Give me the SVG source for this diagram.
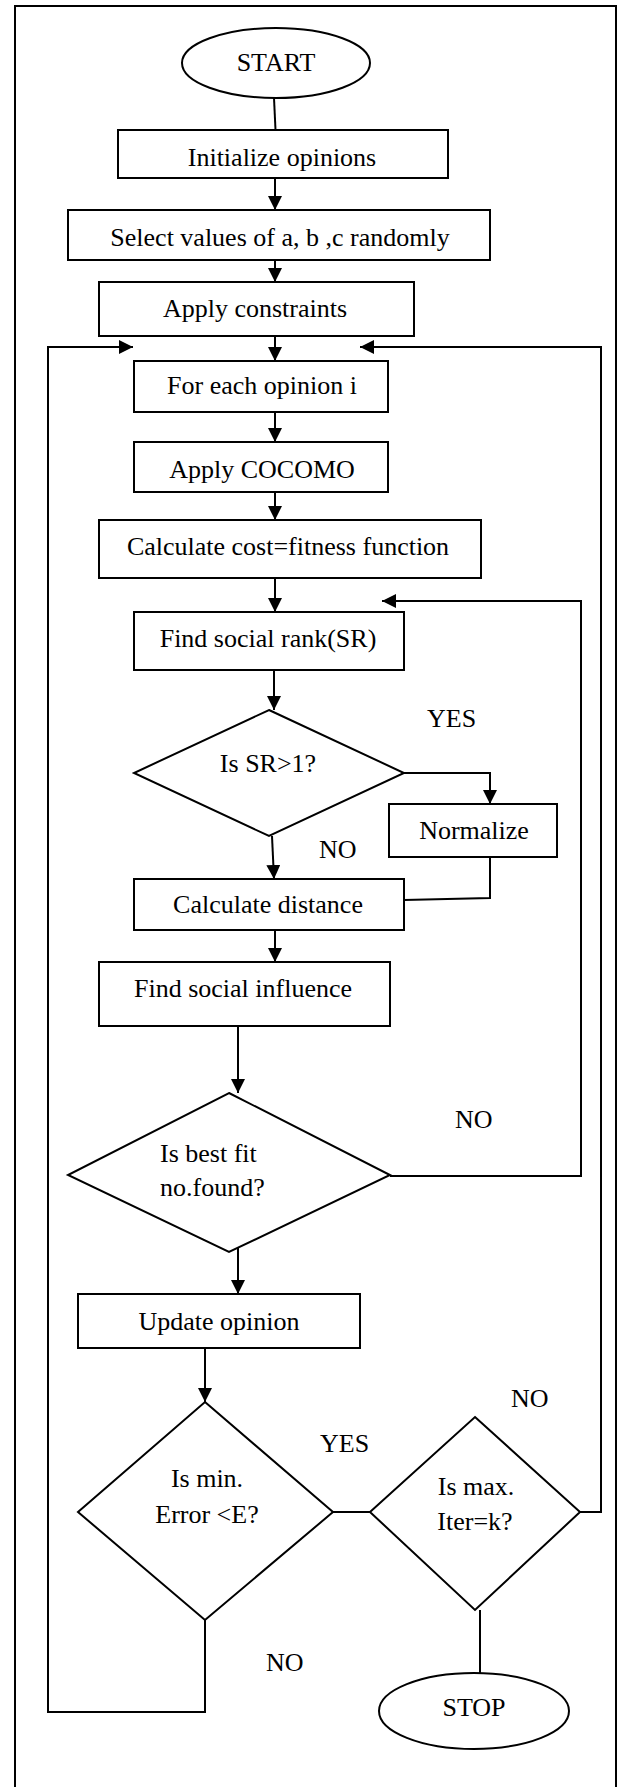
<svg xmlns="http://www.w3.org/2000/svg" width="624" height="1787" viewBox="0 0 624 1787">
<style>
.s{fill:#fff;stroke:#000;stroke-width:2}
.c{fill:none;stroke:#000;stroke-width:2}
.a{marker-end:url(#ah)}
text{font-family:"Liberation Serif","Times New Roman",serif;font-size:26px;fill:#000}
.m{text-anchor:middle}
</style>
<defs>
<marker id="ah" markerUnits="userSpaceOnUse" markerWidth="15" markerHeight="15" refX="14" refY="7" orient="auto">
<path d="M0,0 L14,7 L0,14 z" fill="#000"/>
</marker>
</defs>
<rect x="0" y="0" width="624" height="1787" fill="#fff"/>
<path class="c" d="M15,1795 V6 H616 V1795"/>
<g id="connectors">
<path class="c" d="M274,98 L275.5,130"/>
<path class="c a" d="M275,178 V210"/>
<path class="c a" d="M275,260 V282"/>
<path class="c a" d="M275,336 V361"/>
<path class="c a" d="M275,412 V442"/>
<path class="c a" d="M275,492 V520"/>
<path class="c a" d="M275,578 V612"/>
<path class="c a" d="M274,670 V710"/>
<path class="c a" d="M404,773 H490 V804"/>
<path class="c a" d="M272,836 L274,879"/>
<path class="c" d="M490,857 V898 L404,900"/>
<path class="c a" d="M275,930 V962"/>
<path class="c a" d="M238,1026 V1093"/>
<path class="c a" d="M390,1176 H581 V601 H382"/>
<path class="c a" d="M238,1243 V1294"/>
<path class="c a" d="M205,1348 V1402"/>
<path class="c" d="M333,1512 H370"/>
<path class="c a" d="M580,1512 H601 V347 H360"/>
<path class="c" d="M480,1610 V1673"/>
<path class="c a" d="M205,1620 V1712 H48 V347 H133"/>
</g>
<g id="start"><ellipse class="s" cx="276" cy="63" rx="94" ry="35"/><text class="m" x="276" y="71">START</text></g>
<g id="init"><rect class="s" x="118" y="130" width="330" height="48"/><text class="m" x="282" y="166">Initialize opinions</text></g>
<g id="select"><rect class="s" x="68" y="210" width="422" height="50"/><text class="m" x="280" y="246">Select values of a, b ,c randomly</text></g>
<g id="constraints"><rect class="s" x="99" y="282" width="315" height="54"/><text class="m" x="255" y="317">Apply constraints</text></g>
<g id="foreach"><rect class="s" x="134" y="361" width="254" height="51"/><text class="m" x="262" y="394">For each opinion i</text></g>
<g id="cocomo"><rect class="s" x="134" y="442" width="254" height="50"/><text class="m" x="262" y="478">Apply COCOMO</text></g>
<g id="cost"><rect class="s" x="99" y="520" width="382" height="58"/><text class="m" x="288" y="555">Calculate cost=fitness function</text></g>
<g id="rank"><rect class="s" x="134" y="612" width="270" height="58"/><text class="m" x="268" y="647">Find social rank(SR)</text></g>
<g id="sr"><polygon class="s" points="269,710 404,773 269,836 134,773"/><text class="m" x="268" y="772">Is SR&gt;1?</text></g>
<g id="normalize"><rect class="s" x="389" y="804" width="168" height="53"/><text class="m" x="474" y="839">Normalize</text></g>
<g id="distance"><rect class="s" x="134" y="879" width="270" height="51"/><text class="m" x="268" y="913">Calculate distance</text></g>
<g id="influence"><rect class="s" x="99" y="962" width="291" height="64"/><text class="m" x="243" y="997">Find social influence</text></g>
<g id="bestfit"><polygon class="s" points="229,1093 390,1175 229,1252 68,1175"/><text x="160" y="1162">Is best fit</text><text x="160" y="1196">no.found?</text></g>
<g id="update"><rect class="s" x="78" y="1294" width="282" height="54"/><text class="m" x="219" y="1330">Update opinion</text></g>
<g id="minerr"><polygon class="s" points="205,1402 333,1512 205,1620 78,1512"/><text class="m" x="207" y="1487">Is min.</text><text class="m" x="207" y="1523">Error &lt;E?</text></g>
<g id="maxiter"><polygon class="s" points="475,1417 580,1512 475,1610 370,1512"/><text class="m" x="476" y="1495">Is max.</text><text class="m" x="475" y="1530">Iter=k?</text></g>
<g id="stop"><ellipse class="s" cx="474" cy="1711" rx="95" ry="38"/><text class="m" x="474" y="1716">STOP</text></g>
<g id="labels">
<text x="427" y="727">YES</text>
<text x="319" y="858">NO</text>
<text x="455" y="1128">NO</text>
<text x="320" y="1452">YES</text>
<text x="511" y="1407">NO</text>
<text x="266" y="1671">NO</text>
</g>
</svg>
